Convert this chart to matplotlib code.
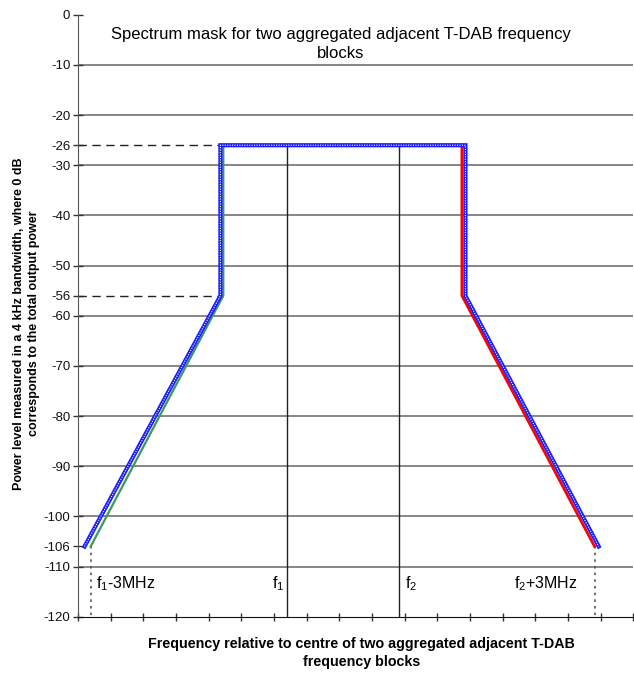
import matplotlib
matplotlib.use("Agg")
import matplotlib.pyplot as plt
import numpy as np

plt.rcParams['font.family'] = ['Liberation Sans', 'DejaVu Sans']
plt.rcParams['mathtext.default'] = 'regular'

# Fréquences en MHz par rapport au centre des deux blocs
f1 = -0.856
f2 = 0.856

# masque du bloc 1 (vert), du bloc 2 (rouge), masque combiné (bleu)
vert_x = [-3.856, -1.826, -1.826, 0.0]
vert_y = [-106, -56, -26, -26]
rouge_x = [3.856, 1.826, 1.826, 0.0]
rouge_y = [-106, -56, -26, -26]
bleu_x = [-3.95, -1.87, -1.87, 1.88, 1.88, 3.92]
bleu_y = [-106, -56, -26, -26, -56, -106]

grilles = [-10, -20, -30, -40, -50, -60, -70, -80, -90, -100, -110]
yticks = [0, -10, -20, -26, -30, -40, -50, -56, -60, -70, -80, -90, -100, -106, -110, -120]

fig = plt.figure(figsize=(6.34, 6.74), dpi=100)
ax = fig.add_axes([0.123, 0.085, 0.876, 0.893])

for g in grilles:
    ax.axhline(g, color='#666666', lw=1.1, zorder=1)

# lignes verticales f1, f2
ax.plot([f1, f1], [-26, -120], color='#222222', lw=1, zorder=2)
ax.plot([f2, f2], [-26, -120], color='#222222', lw=1, zorder=2)

# pointillés
ax.plot([-3.856, -3.856], [-106, -120], color='#555555', lw=1.2, ls=(0, (1.5, 2.5)), zorder=2)
ax.plot([3.856, 3.856], [-106, -120], color='#555555', lw=1.2, ls=(0, (1.5, 2.5)), zorder=2)

# tirets -26 et -56
x0 = -4.05
ax.plot([x0, bleu_x[2]], [-26, -26], color='#222222', lw=1, ls=(0, (6, 4)), zorder=2)
ax.plot([x0, bleu_x[1]], [-56, -56], color='#222222', lw=1, ls=(0, (6, 4)), zorder=2)

ax.plot(vert_x, vert_y, color='#3a9a5a', lw=1.6, zorder=3)
ax.plot(rouge_x, rouge_y, color='#ff0000', lw=2, zorder=3)
ax.plot(bleu_x, bleu_y, color='#1a1aff', lw=3.0, zorder=4, solid_joinstyle='miter')
ax.plot(bleu_x, bleu_y, color='white', lw=0.8, ls=(0, (1, 1.2)), zorder=5)

ax.set_xlim(-4.05, 4.45)
ax.set_ylim(-120, 0)
ax.set_xticks(np.arange(-4.05, 4.46, 0.5))
ax.set_xticklabels([])
ax.set_yticks(yticks)
ax.set_yticklabels([str(v) for v in yticks])
ax.tick_params(axis='both', direction='inout', length=7, width=1, color='#333333',
               labelsize=9.5, labelcolor='#111111')
ax.tick_params(axis='x', length=6)
ax.tick_params(axis='y', pad=2)

for s in ['top', 'right']:
    ax.spines[s].set_visible(False)
ax.spines['left'].set_color('#555555')
ax.spines['bottom'].set_color('#111111')

ax.text(-3.78, -113.5, r'$f_1$-3MHz', fontsize=11.5, va='center', ha='left')
ax.text(f1 - 0.03, -113.5, r'$f_1$', fontsize=11.5, va='center', ha='right')
ax.text(f2 + 0.1, -113.5, r'$f_2$', fontsize=11.5, va='center', ha='left')
ax.text(3.6, -113.5, r'$f_2$+3MHz', fontsize=11.5, va='center', ha='right')

fig.text(0.537, 0.935, "Spectrum mask for two aggregated adjacent T-DAB frequency\nblocks",
         ha='center', va='center', fontsize=12, linespacing=1.3)
fig.text(0.57, 0.031, "Frequency relative to centre of two aggregated adjacent T-DAB\nfrequency blocks",
         ha='center', va='center', fontsize=10.3, fontweight='bold', linespacing=1.3)
fig.text(0.042, 0.52, "Power level measured in a 4 kHz bandwidth, where 0 dB\ncorresponds to the total output power",
         ha='center', va='center', fontsize=9, fontweight='bold', rotation=90, linespacing=1.3)

fig.savefig('out.png', dpi=100)
